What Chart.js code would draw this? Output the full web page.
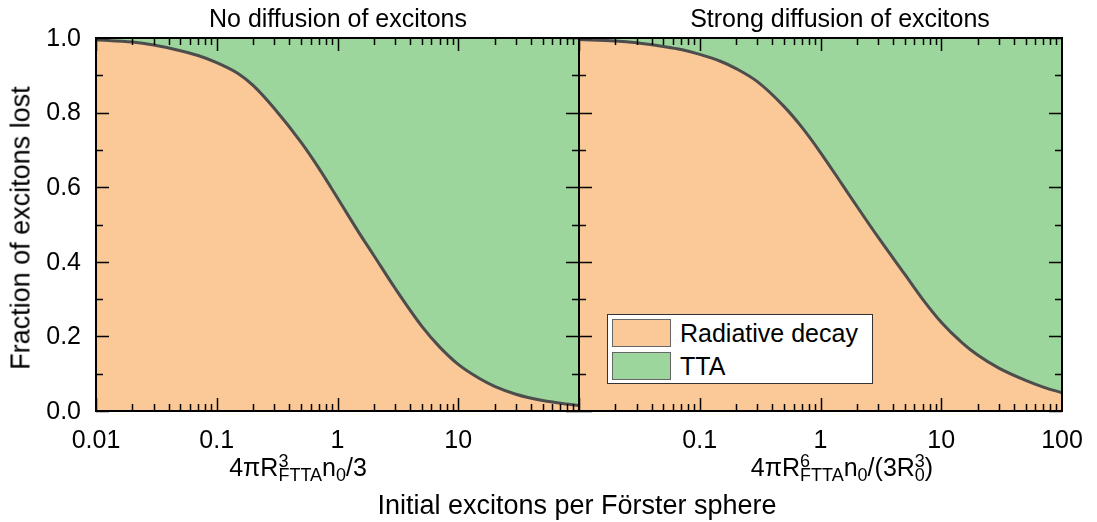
<!DOCTYPE html>
<html>
<head>
<meta charset="utf-8">
<script src="https://cdn.jsdelivr.net/npm/chart.js@4"></script>
<style>
  html, body { margin: 0; padding: 0; background: #fff; }
  #wrap { position: relative; width: 1097px; height: 522px; font-family: "Liberation Sans", Arial, sans-serif; color: #000; }
  canvas { position: absolute; left: 0; top: 0; }
  .txt { position: absolute; white-space: nowrap; font-size: 25px; line-height: 1; }
  .ss { display: inline-block; position: relative; font-size: 18px; }
  .ss .up { position: absolute; left: 0; top: -0.5em; }
  .ss .dn { position: relative; top: 0.3em; }
  .sb { font-size: 18px; position: relative; top: 0.3em; }
  #legend { position: absolute; left: 607px; top: 314px; width: 264px; height: 68px; background: #fff; border: 1.5px solid #333; z-index: 5; }
  .row { position: absolute; left: 4px; height: 28px; width: 255px; }
  .sw { position: absolute; left: 0; top: 0; width: 57px; height: 26px; border: 1px solid #666; }
  .lt { position: absolute; left: 68px; top: 1px; font-size: 25px; line-height: 26px; white-space: nowrap; }
</style>
</head>
<body>
<div id="wrap">
  <canvas id="leftChart" width="1097" height="522"></canvas>
  <canvas id="rightChart" width="1097" height="522"></canvas>

  <div class="txt" style="left:338px; top:6px; transform:translateX(-50%);">No diffusion of excitons</div>
  <div class="txt" style="left:840px; top:6px; transform:translateX(-50%);">Strong diffusion of excitons</div>

  <div class="txt" style="left:21px; top:228px; font-size:27px; transform:translate(-50%,-50%) rotate(-90deg);">Fraction of excitons lost</div>

  <div class="txt" style="left:298px; top:455px; transform:translateX(-50%);">4&pi;R<span class="ss"><span class="up">3</span><span class="dn">FTTA</span></span>n<span class="sb">0</span>/3</div>
  <div class="txt" style="left:842px; top:455px; transform:translateX(-50%);">4&pi;R<span class="ss"><span class="up">6</span><span class="dn">FTTA</span></span>n<span class="sb">0</span>/(3R<span class="ss"><span class="up">3</span><span class="dn">0</span></span>)</div>

  <div class="txt" style="left:577px; top:492px; font-size:27px; transform:translateX(-50%);">Initial excitons per Förster sphere</div>

  <div id="legend">
    <div class="row" style="top:4px;"><div class="sw" style="background:#fbc897;"></div><div class="lt">Radiative decay</div></div>
    <div class="row" style="top:37px;"><div class="sw" style="background:#9dd69d;"></div><div class="lt">TTA</div></div>
  </div>
</div>

<script>
// x values shared by both panels (log axis)
const xValues = [0.01, 0.02, 0.03, 0.05, 0.07, 0.1, 0.15, 0.2, 0.3, 0.5, 0.7, 1, 1.5, 2, 3, 5, 7, 10, 15, 20, 30, 50, 70, 100];

// fraction lost by radiative decay (rest is TTA)
const radNoDiffusion = [0.995, 0.989, 0.981, 0.966, 0.953, 0.934, 0.905, 0.873, 0.811, 0.720, 0.651, 0.571, 0.479, 0.417, 0.329, 0.227, 0.172, 0.125, 0.087, 0.066, 0.045, 0.028, 0.021, 0.015];
const radStrongDiffusion = [0.996, 0.992, 0.987, 0.977, 0.969, 0.956, 0.937, 0.918, 0.883, 0.816, 0.761, 0.693, 0.609, 0.549, 0.466, 0.366, 0.300, 0.238, 0.182, 0.150, 0.115, 0.082, 0.064, 0.049];

const xTicksLeft = ["0.01", "0.1", "1", "10"];
const xTicksRight = ["0.1", "1", "10", "100"];
const yTicks = ["0.0", "0.2", "0.4", "0.6", "0.8", "1.0"];

const ORANGE = "#fbc897";
const GREEN = "#9dd69d";
const CURVE = "#4d4d4d";
const FONT = '25px "Liberation Sans", Arial, sans-serif';

// frame + inward ticks + tick labels
const frameTicks = {
  id: "frameTicks",
  afterDatasetsDraw(chart, args, opts) {
    const { ctx, chartArea: a } = chart;
    const xs = chart.scales.x, ys = chart.scales.y;
    ctx.save();
    ctx.strokeStyle = "#000";
    ctx.lineWidth = 1.5;
    ctx.beginPath();
    for (let d = -2; d <= 1; d++) {
      for (let k = 1; k <= 9; k++) {
        const v = k * Math.pow(10, d);
        const px = Math.round(xs.getPixelForValue(v)) + 0.5;
        const len = k === 1 ? 13 : 7;
        ctx.moveTo(px, a.bottom); ctx.lineTo(px, a.bottom - len);
        ctx.moveTo(px, a.top); ctx.lineTo(px, a.top + len);
      }
    }
    for (let i = 0; i <= 10; i++) {
      const py = Math.round(ys.getPixelForValue(i / 10)) + 0.5;
      const len = i % 2 === 0 ? 13 : 7;
      ctx.moveTo(a.left, py); ctx.lineTo(a.left + len, py);
      ctx.moveTo(a.right, py); ctx.lineTo(a.right - len, py);
    }
    ctx.stroke();

    ctx.lineWidth = 2;
    ctx.strokeRect(a.left, a.top, a.right - a.left, a.bottom - a.top);

    ctx.fillStyle = "#000";
    ctx.font = FONT;
    ctx.textAlign = "center";
    ctx.textBaseline = "middle";
    opts.xLabels.forEach(t => {
      ctx.fillText(t, xs.getPixelForValue(Number(t)), a.bottom + 30);
    });
    if (opts.showY) {
      ctx.textAlign = "right";
      yTicks.forEach(t => {
        ctx.fillText(t, a.left - 15, ys.getPixelForValue(Number(t)) + 1);
      });
    }
    ctx.restore();
  }
};

function makePanel(id, rad, xLabels, showY, padding) {
  const pts = xValues.map((x, i) => ({ x, y: rad[i] }));
  return new Chart(document.getElementById(id), {
    type: "line",
    data: {
      datasets: [
        // index 0 is drawn last, so the curve sits on top of the green fill
        { label: "Radiative decay", data: pts, fill: "start", backgroundColor: ORANGE,
          borderColor: CURVE, borderWidth: 3, pointRadius: 0, cubicInterpolationMode: "monotone" },
        { label: "TTA", data: pts, fill: "end", backgroundColor: GREEN, borderWidth: 0,
          pointRadius: 0, cubicInterpolationMode: "monotone" }
      ]
    },
    options: {
      responsive: false,
      animation: false,
      events: [],
      layout: { padding },
      plugins: {
        legend: { display: false },
        tooltip: { enabled: false },
        frameTicks: { xLabels, showY }
      },
      scales: {
        x: { type: "logarithmic", min: 0.01, max: 100, display: false },
        y: { type: "linear", min: 0, max: 1, display: false }
      }
    },
    plugins: [frameTicks]
  });
}

makePanel("leftChart", radNoDiffusion, xTicksLeft, true, { left: 96, right: 518, top: 38, bottom: 111 });
makePanel("rightChart", radStrongDiffusion, xTicksRight, false, { left: 579, right: 35, top: 38, bottom: 111 });
</script>
</body>
</html>
